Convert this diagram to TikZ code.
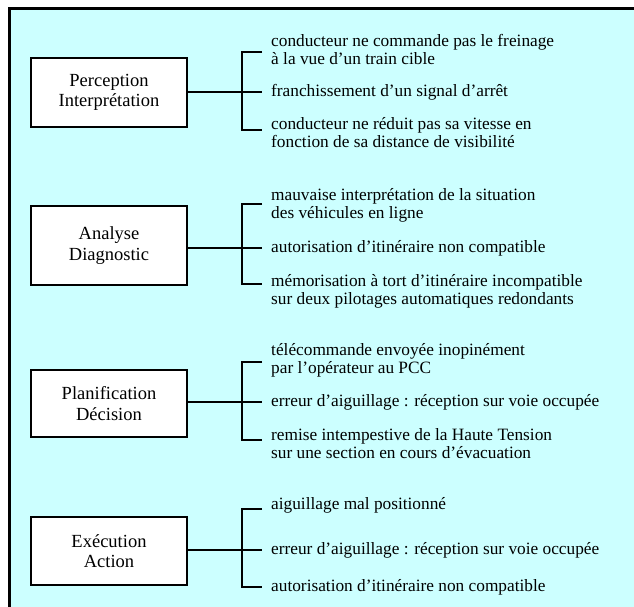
\documentclass[tikz,border=0pt]{standalone}
\usepackage{fontspec}
\setmainfont{Liberation Serif}
\usepackage{tikz}
\usetikzlibrary{positioning}
\definecolor{bgcyan}{RGB}{204,255,255}
\tikzset{
  phase/.style={draw, fill=white, line width=2.2pt, minimum width=156pt, align=center, inner sep=0pt, font=\fontsize{18.5}{20.5}\selectfont},
  cause/.style={anchor=west, align=left, inner sep=0pt, font=\fontsize{17.3}{18}\selectfont},
  link/.style={line width=2.2pt}
}
\begin{document}
\begin{tikzpicture}[x=1pt,y=-1pt]
\useasboundingbox (0,0) rectangle (634,607);
\fill[bgcyan] (9.5,8.5) rectangle (634,607);
\draw[line width=3.2pt] (9.5,607) -- (9.5,8.5) -- (634,8.5);

\node[phase, minimum height=69pt] (P1) at (109,92.5) {Perception\\Interprétation};
\node[phase, minimum height=79pt] (P2) at (109,245.5) {Analyse\\Diagnostic};
\node[phase, minimum height=67pt] (P3) at (109,403.5) {Planification\\Décision};
\node[phase, minimum height=68pt] (P4) at (109,551) {Exécution\\Action};

\coordinate (T1) at (262,52);  \coordinate (M1) at (262,92);  \coordinate (B1) at (262,130);
\coordinate (T2) at (262,204); \coordinate (M2) at (262,248); \coordinate (B2) at (262,284);
\coordinate (T3) at (262,362); \coordinate (M3) at (262,402); \coordinate (B3) at (262,440);
\coordinate (T4) at (262,509); \coordinate (M4) at (262,550); \coordinate (B4) at (262,587);

\draw[link] (P1.east |- M1) -- (M1);
\draw[link] (T1) -- ++(-20,0) |- (B1);
\draw[link] (P2.east |- M2) -- (M2);
\draw[link] (T2) -- ++(-20,0) |- (B2);
\draw[link] (P3.east |- M3) -- (M3);
\draw[link] (T3) -- ++(-20,0) |- (B3);
\draw[link] (P4.east |- M4) -- (M4);
\draw[link] (T4) -- ++(-20,0) |- (B4);

\node[cause] (c11) at (271,49) {conducteur ne commande pas le freinage\\à la vue d'un train cible};
\node[cause] (c12) at (271,92) {franchissement d'un signal d'arrêt};
\node[cause] (c13) at (271,133) {conducteur ne réduit pas sa vitesse en\\fonction de sa distance de visibilité};

\node[cause] (c21) at (271,205) {mauvaise interprétation de la situation\\des véhicules en ligne};
\node[cause] (c22) at (271,248) {autorisation d'itinéraire non compatible};
\node[cause] (c23) at (271,291) {mémorisation à tort d'itinéraire incompatible\\sur deux pilotages automatiques redondants};

\node[cause] (c31) at (271,360) {télécommande envoyée inopinément\\par l'opérateur au PCC};
\node[cause] (c32) at (271,402) {erreur d'aiguillage : réception sur voie occupée};
\node[cause] (c33) at (271,444) {remise intempestive de la Haute Tension\\sur une section en cours d'évacuation};

\node[cause] (c41) at (271,505) {aiguillage mal positionné};
\node[cause] (c42) at (271,550) {erreur d'aiguillage : réception sur voie occupée};
\node[cause] (c43) at (271,587) {autorisation d'itinéraire non compatible};
\end{tikzpicture}
\end{document}
